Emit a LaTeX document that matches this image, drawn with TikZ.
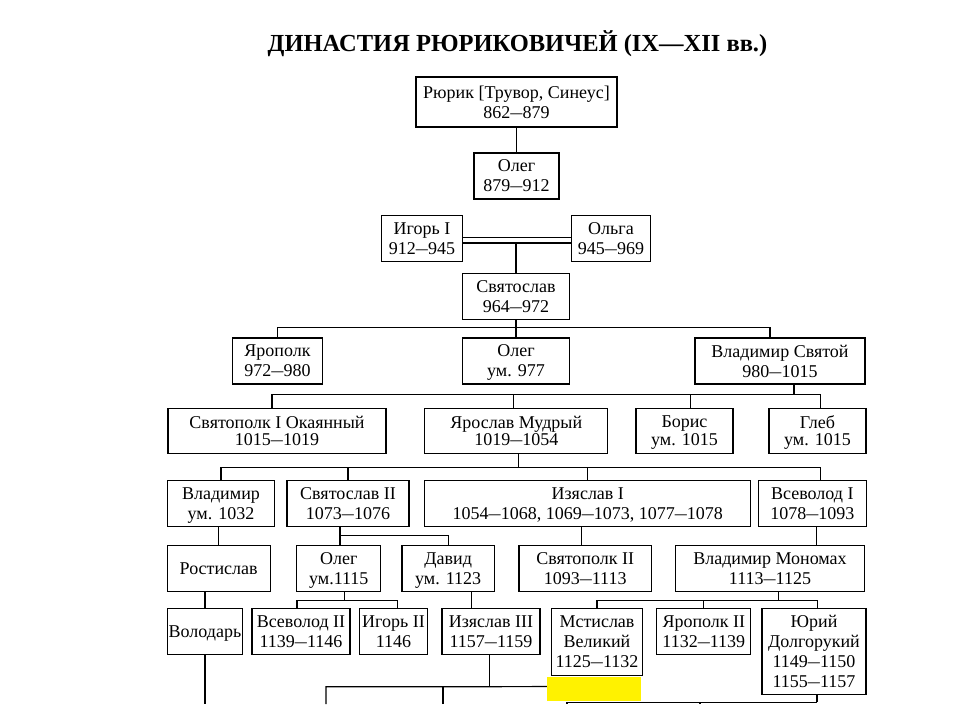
\documentclass[tikz,border=0pt]{standalone}
\usepackage{fontspec}
\usepackage{graphicx}
\setmainfont{Liberation Serif}
\newcommand{\da}{\scalebox{0.67}[1]{—}}

\begin{document}
\begin{tikzpicture}[x=1pt,y=-1pt,line width=1.1pt,
  prince/.style={draw,align=center,inner sep=0pt,minimum height=46,text depth=-4.1pt,font=\fontsize{18}{20}\selectfont},
  tight/.style={minimum height=45,text depth=-5.6pt,font=\fontsize{18}{17.5}\selectfont}]
\useasboundingbox (0,0) rectangle (960,720);
\node[font=\fontsize{24.5}{28}\selectfont\bfseries,anchor=base] (title) at (517.5,51.7) {ДИНАСТИЯ РЮРИКОВИЧЕЙ (IX—XII вв.)};
\node[prince,minimum width=201,minimum height=50] (rurik) at (516.5,102) {Рюрик [Трувор, Синеус]\\862\da879};
\node[prince,minimum width=85] (oleg) at (516.5,176) {Олег\\879\da912};
\node[prince,minimum width=81] (igor) at (422,238.7) {Игорь I\\912\da945};
\node[prince,minimum width=79] (olga) at (611,238.7) {Ольга\\945\da969};
\node[prince,minimum width=107] (svyatoslav) at (516,296.3) {Святослав\\964\da972};
\node[prince,minimum width=90] (yaropolk) at (277.5,361) {Ярополк\\972\da980};
\node[prince,minimum width=107] (olegD) at (516,361) {Олег\\ум. 977};
\node[prince,minimum width=170] (vladimirS) at (780,361) {Владимир Святой\\980\da1015};
\node[prince,tight,minimum width=218] (svyatopolk) at (277,430.8) {Святополк I Окаянный\\1015\da1019};
\node[prince,tight,minimum width=183] (yaroslav) at (516.3,430.8) {Ярослав Мудрый\\1019\da1054};
\node[prince,tight,minimum width=97] (boris) at (684.5,430.8) {Борис\\ум. 1015};
\node[prince,tight,minimum width=97] (gleb) at (817.5,430.8) {Глеб\\ум. 1015};
\node[prince,minimum width=107] (vladimirY) at (221,503.8) {Владимир\\ум. 1032};
\node[prince,minimum width=122] (svyatoslavII) at (348,503.8) {Святослав II\\1073\da1076};
\node[prince,minimum width=326] (izyaslav) at (587.8,503.8) {Изяслав I\\1054\da1068, 1069\da1073, 1077\da1078};
\node[prince,minimum width=107.5] (vsevolod) at (812.3,503.8) {Всеволод I\\1078\da1093};
\node[prince,minimum width=103] (rostislav) at (218.7,568.3) {Ростислав};
\node[prince,minimum width=84] (olegS) at (338.8,568.3) {Олег\\ум.1115};
\node[prince,minimum width=92.5] (david) at (448.2,568.3) {Давид\\ум. 1123};
\node[prince,minimum width=132.5] (svyatopolkII) at (585.2,568.3) {Святополк II\\1093\da1113};
\node[prince,minimum width=189] (monomakh) at (770,568.3) {Владимир Мономах\\1113\da1125};
\node[prince,minimum width=75] (volodar) at (205,631.2) {Володарь};
\node[prince,minimum width=98] (vsevolodII) at (301,631.2) {Всеволод II\\1139\da1146};
\node[prince,minimum width=68] (igorII) at (393.5,631.2) {Игорь II\\1146};
\node[prince,minimum width=98] (izyaslavIII) at (491,631.2) {Изяслав III\\1157\da1159};
\node[prince,minimum width=91.5,minimum height=67.5] (mstislav) at (597,642) {Мстислав\\Великий\\1125\da1132};
\node[prince,minimum width=94] (yaropolkII) at (703.8,631.2) {Ярополк II\\1132\da1139};
\node[prince,minimum width=104,minimum height=86] (yuri) at (814,651.3) {Юрий\\Долгорукий\\1149\da1150\\1155\da1157};
\coordinate (cutA) at (326,704);
\coordinate (cutB) at (443,704);
\coordinate (hidden) at (600,686.2);
\coordinate (cutE) at (567,704);
\coordinate (cutF) at (700,704);
\coordinate (cutV) at (205,704);
\draw (rurik) -- (oleg);
\draw[double,double distance=4.5pt] ([yshift=-1.5]igor.east) -- ([yshift=-1.5]olga.west);
\draw (svyatoslav.north) -- ++(0,-30);
\draw (svyatoslav.south) -- ++(0,8) coordinate (sons1);
\draw (yaropolk.north) |- (sons1) -| ([xshift=-10]vladimirS.north);
\draw (sons1) -- (olegD.north);
\draw ([xshift=14]vladimirS.south) -- ++(0,10) coordinate (sons2);
\draw ([xshift=-5]svyatopolk.north) |- (sons2) -| ([xshift=3]gleb.north);
\draw ([xshift=-3]yaroslav.north) -- ([xshift=-3]yaroslav.north |- sons2);
\draw ([xshift=6]boris.north) -- ([xshift=6]boris.north |- sons2);
\draw ([xshift=2]yaroslav.south) -- ++(0,13.4) coordinate (sons3);
\draw (vladimirY.north) |- (sons3) -| ([xshift=8.5]vsevolod.north);
\draw (svyatoslavII.north) -- (svyatoslavII.north |- sons3);
\draw (izyaslav.north) -- (izyaslav.north |- sons3);
\draw (rostislav.north) -- (rostislav.north |- vladimirY.south);
\draw ([xshift=-8]svyatoslavII.south) -- ++(0,8.3) coordinate (sons5) -| (david.north);
\draw (sons5) -- (sons5 |- olegS.north);
\draw ([xshift=-4]svyatopolkII.north) -- ([xshift=-4]svyatopolkII.north |- izyaslav.south);
\draw ([xshift=4.5]vsevolod.south) -- ([xshift=4.5]vsevolod.south |- monomakh.north);
\draw (volodar.north) -- (volodar.north |- rostislav.south);
\draw ([xshift=6]olegS.south) -- ++(0,8.3) coordinate (sons9);
\draw ([xshift=-4]vsevolodII.north) |- (sons9) -| ([xshift=4]igorII.north);
\draw ([xshift=23]david.south) -- ([xshift=23]david.south |- izyaslavIII.north);
\draw ([xshift=8.5]monomakh.south) -- ++(0,8.3) coordinate (sons11);
\draw (mstislav.north) |- (sons11) -| ([xshift=3.5]yuri.north);
\draw (yaropolkII.north) -- (yaropolkII.north |- sons11);
\draw (volodar.south) -- (cutV);
\draw ([xshift=-1.5]izyaslavIII.south) -- ++(0,32) coordinate (sons12);
\draw (cutA) |- (sons12) -- (hidden);
\draw (cutB) -- (cutB |- sons12);
\draw ([xshift=3]yuri.south) -- ++(0,7.4) coordinate (sons13);
\draw (sons13) -| (cutE);
\draw (cutF) -- (cutF |- sons13);
\fill[yellow] (547,676.5) rectangle (641,701);
\end{tikzpicture}
\end{document}
